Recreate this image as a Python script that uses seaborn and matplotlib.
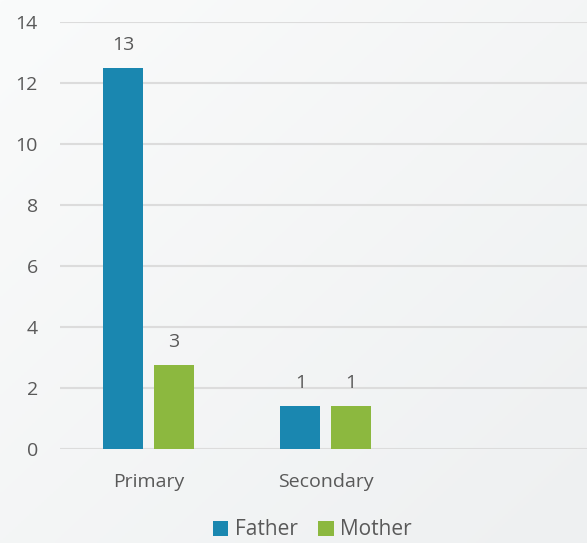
import decimal
import matplotlib
matplotlib.use("Agg")
import matplotlib.pyplot as plt
import numpy as np
import pandas as pd
import seaborn as sns

# Education level of parents
levels = ["Primary", "Secondary"]
parents = ["Father", "Mother"]
father_counts = [12.5, 1.4]
mother_counts = [2.75, 1.4]
y_ticks = [0, 2, 4, 6, 8, 10, 12, 14]

colors = {"Father": "#1a87b0", "Mother": "#8cb83f"}
text_color = "#595959"
grid_color = "#dcdcdc"

df = pd.DataFrame({
    "level": levels * 2,
    "parent": ["Father"] * len(levels) + ["Mother"] * len(levels),
    "count": father_counts + mother_counts,
})

sns.set_theme(style="white")
plt.rcParams["font.family"] = ["Open Sans", "DejaVu Sans"]

fig = plt.figure(figsize=(5.87, 5.43), dpi=100)

# soft diagonal background shading, light at top-left
bg = fig.add_axes([0, 0, 1, 1], zorder=-10)
gx, gy = np.meshgrid(np.linspace(0, 1, 200), np.linspace(0, 1, 200))
shade = 0.5 * (gx + gy)
bg.imshow(shade, extent=[0, 1, 0, 1], cmap=matplotlib.colors.LinearSegmentedColormap.from_list(
    "bgshade", ["#fafbfb", "#eef0f1"]), aspect="auto", origin="upper")
bg.axis("off")

ax = fig.add_axes([0.1022, 0.1731, 0.8978, 0.7864])
ax.set_facecolor("none")

sns.barplot(data=df, x="level", y="count", hue="parent", order=levels,
            hue_order=parents, palette=colors, width=0.57, gap=0.2,
            saturation=1, linewidth=0, ax=ax, legend=True)


def half_up(v):
    return str(decimal.Decimal(str(v)).quantize(decimal.Decimal("1"),
                                                rounding=decimal.ROUND_HALF_UP))


for cont in ax.containers:
    ax.bar_label(cont, labels=[half_up(b.get_height()) for b in cont],
                 padding=10, fontsize=14, color=text_color)

ax.set_xlim(-0.5, 2.477)
ax.set_ylim(0, 14)
ax.set_yticks(y_ticks)
ax.yaxis.grid(True, color=grid_color, linewidth=1.5)
ax.set_axisbelow(True)
for s in ax.spines.values():
    s.set_visible(False)
ax.tick_params(axis="both", length=0, labelsize=14, labelcolor=text_color)
ax.tick_params(axis="x", pad=17)
ax.tick_params(axis="y", pad=16)
ax.set_xlabel("")
ax.set_ylabel("")

handles, labs = ax.get_legend_handles_labels()
ax.legend(handles, labs, loc="center", bbox_to_anchor=(0.532, 0.024),
          bbox_transform=fig.transFigure, ncol=2, frameon=False,
          handlelength=0.75, handleheight=0.75, handletextpad=0.3,
          columnspacing=1.0, prop={"size": 15}, labelcolor=text_color)

fig.savefig("out.png", dpi=100)
